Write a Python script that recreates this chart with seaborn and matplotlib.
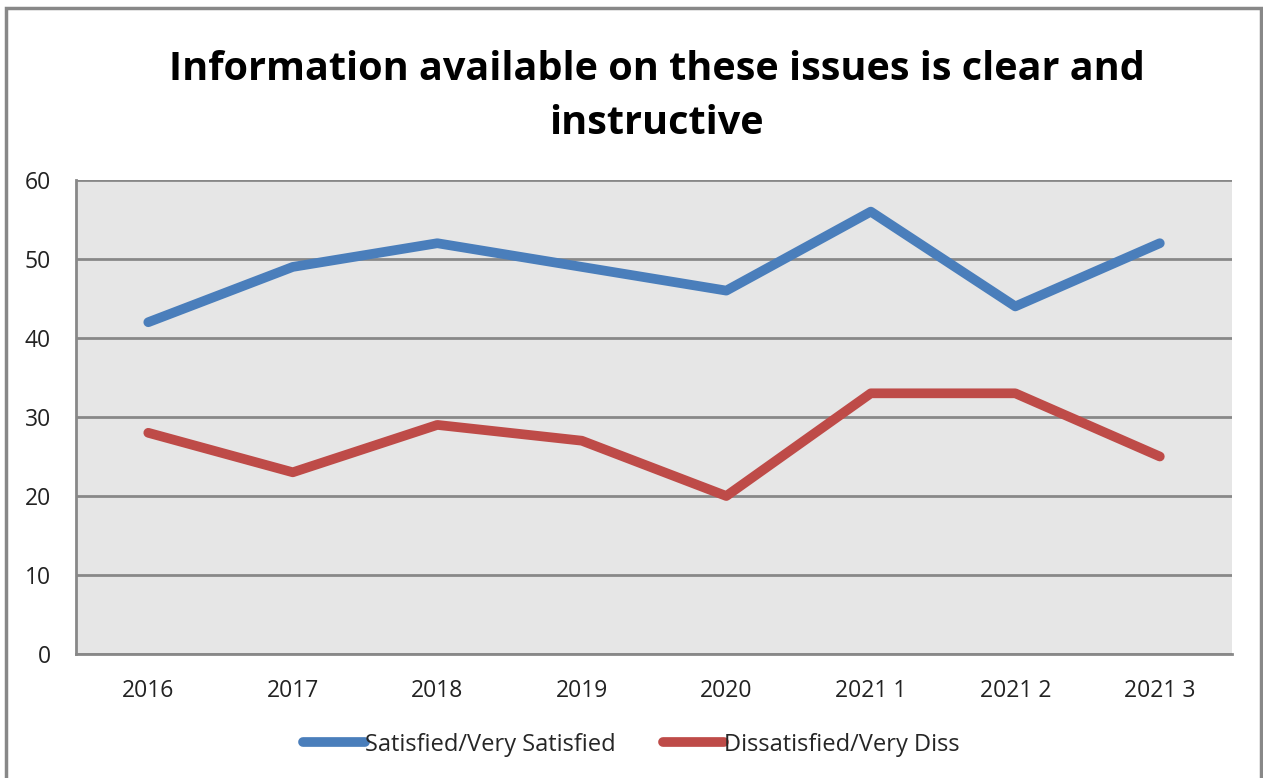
import matplotlib
matplotlib.use("Agg")
import matplotlib.pyplot as plt
import numpy as np
import pandas as pd
import seaborn as sns
from matplotlib.patches import Rectangle
from matplotlib.lines import Line2D

# --- data ---
periods = ["2016", "2017", "2018", "2019", "2020", "2021 1", "2021 2", "2021 3"]
satisfied = [42, 49, 52, 49, 46, 56, 44, 52]
dissatisfied = [28, 23, 29, 27, 20, 33, 33, 25]
series_names = ["Satisfied/Very Satisfied", "Dissatisfied/Very Diss"]
colors = ["#4A7EBB", "#BE4B48"]

df = pd.DataFrame({"period": periods, series_names[0]: satisfied, series_names[1]: dissatisfied})
df_long = df.melt(id_vars="period", var_name="series", value_name="value")
df_long["x"] = df_long["period"].map({p: i for i, p in enumerate(periods)})

sns.set_theme(style="white")
plt.rcParams['font.family'] = ['Open Sans', 'DejaVu Sans']

fig = plt.figure(figsize=(12.63, 7.78), dpi=100)
ax = fig.add_axes([0.0602, 0.1594, 0.9153, 0.6092])
ax.set_facecolor("#E6E6E6")

sns.lineplot(data=df_long, x="x", y="value", hue="series", hue_order=series_names,
             palette=colors, linewidth=7, solid_capstyle="round", ax=ax, legend=False)

ax.set_xlim(-0.5, len(periods) - 0.5)
ax.set_ylim(0, 60)
ax.set_yticks(range(0, 61, 10))
ax.set_xticks(range(len(periods)))
ax.set_xticklabels(periods)
ax.tick_params(axis="both", length=0, labelsize=16.5, colors="#222222")
ax.tick_params(axis="x", pad=18)
ax.tick_params(axis="y", pad=18)
ax.yaxis.grid(True, color="#888888", linewidth=2)
ax.set_axisbelow(True)
ax.set_xlabel("")
ax.set_ylabel("")
for s in ["top", "right"]:
    ax.spines[s].set_visible(False)
for s in ["left", "bottom"]:
    ax.spines[s].set_color("#888888")
    ax.spines[s].set_linewidth(2)

fig.text(0.52, 0.876, "Information available on these issues is clear and\ninstructive",
         ha="center", va="center", fontsize=28.5, fontweight="bold", linespacing=1.5,
         color="black")

# legend
handles = [Line2D([0], [0], color=c, linewidth=7, solid_capstyle="round") for c in colors]
fig.legend(handles, series_names, loc="center", bbox_to_anchor=(0.5, 0.043), ncol=2,
           frameon=False, fontsize=17, handlelength=2.6, handletextpad=0.0, columnspacing=2.0)

# outer chart border
fig.patches.append(Rectangle((6 / 1263, -0.05), 1255 / 1263, (778 - 8) / 778 + 0.05,
                             transform=fig.transFigure, fill=False, edgecolor="#888888",
                             linewidth=2.5, clip_on=False))

fig.savefig("out.png", dpi=100)
